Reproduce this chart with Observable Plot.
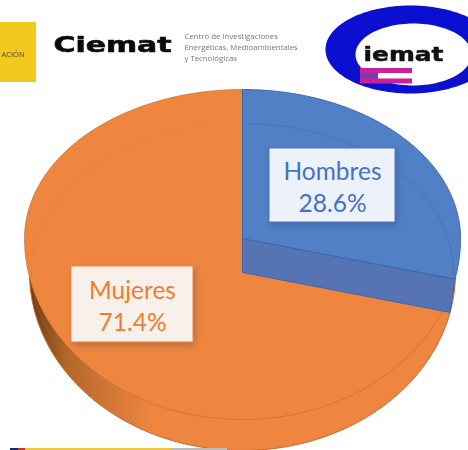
<!DOCTYPE html>
<html lang="es">
<head>
<meta charset="utf-8">
<script src="https://cdn.jsdelivr.net/npm/d3@7"></script>
<script src="https://cdn.jsdelivr.net/npm/@observablehq/plot@0.6"></script>
<style>html,body{margin:0;padding:0;background:#fff}svg{display:block}</style>
</head>
<body>
<div id="chart"></div>
<script>
// Chart data
const categories = ["Hombres", "Mujeres"];
const shares = [28.6, 71.4];
const logoLines = ["Centro de Investigaciones", "Energéticas, Medioambientales", "y Tecnológicas"];

// Pie geometry on the page
const blue = "#5180C6", orange = "#EE8640", font = "Lato, 'Open Sans', sans-serif";
const topFace = {cx: 242, cy: 238, rx: 218, up: 149, low: 181};
const baseFace = {cx: 242, cy: 272, rx: 213, up: 149, low: 178};
const faint = {cx: 242, cy: 272, rx: 211, up: 149, low: 147};

const pt = (f, t) => {
  const dy = -Math.cos(t);
  return {x: f.cx + f.rx * Math.sin(t), y: f.cy + dy * (dy < 0 ? f.up : f.low)};
};
const arc = (f, a, b) => d3.range(0, 121).map(i => pt(f, a + (b - a) * i / 120));
const apex = f => ({x: f.cx, y: f.cy});
const angles = d3.pie().sort(null).value(d => d)(shares);
const [men, women] = angles;

const sector = (f, s) => [apex(f), ...arc(f, s.startAngle, s.endAngle), apex(f)];
const ring = (cx, cy, rx, ry) => d3.range(0, 121).map(i => ({
  x: cx + rx * Math.cos(i / 120 * 2 * Math.PI), y: cy + ry * Math.sin(i / 120 * 2 * Math.PI)
}));
const P = {x: "x", y: "y"};
const poly = (pts, o) => Plot.line(pts, {...P, ...o});

const band = [
  apex(topFace),
  pt(topFace, men.endAngle),
  pt(baseFace, men.endAngle),
  apex(baseFace),
  apex(topFace)
];
const wall = arc(baseFace, Math.PI * 0.5, Math.PI * 1.5);

const labels = categories.map((c, i) => ({
  text: `${c}\n${shares[i].toFixed(1)}%`,
  x: [332, 132][i], y: [185, 304][i],
  x1: [269, 71][i], x2: [395, 193][i], y1: [148, 266][i], y2: [222, 342][i],
  color: ["#4472C4", "#ED7D31"][i],
  bg: ["#EDF1F9", "#F8F0EB"][i],
  border: ["#4A78C8", "#F0843C"][i]
}));

const defs = () => {
  const d = d3.create("svg:defs");
  const g = d.append("linearGradient").attr("id", "wallGrad")
    .attr("gradientUnits", "userSpaceOnUse")
    .attr("x1", 30).attr("x2", 150).attr("y1", 0).attr("y2", 0);
  g.append("stop").attr("offset", 0).attr("stop-color", "#6E3D14");
  g.append("stop").attr("offset", 0.3).attr("stop-color", "#B4662A");
  g.append("stop").attr("offset", 1).attr("stop-color", orange);
  return d.node();
};

const strip = [
  {a: 10, b: 18, c: "#1B2A6B"},
  {a: 18, b: 25, c: "#C0392B"},
  {a: 25, b: 171, c: "#F0C63A"},
  {a: 171, b: 227, c: "#BDBDBD"}
];

const soft = "blur(0.6px)";
const chart = Plot.plot({
  width: 468, height: 450,
  margin: 0,
  x: {axis: null, domain: [0, 468], range: [0, 468]},
  y: {axis: null, domain: [0, 450], range: [0, 450]},
  style: {background: "#fff", fontFamily: font},
  marks: [
    defs,
    // Logos
    Plot.rect([{}], {x1: () => 0, x2: () => 36, y1: () => 22, y2: () => 82, fill: "#F4C91F", imageFilter: soft}),
    Plot.text(["ACIÓN"], {x: () => 1, y: () => 54, text: d => d, textAnchor: "start", fontSize: 7.5, fill: "#4a4320", fontFamily: "'Open Sans'", imageFilter: soft}),
    Plot.text(["Ciemat"], {x: () => 53, y: () => 45, text: d => d, textAnchor: "start", fontSize: 21, fontWeight: 700, fill: "#0b0b0b", stroke: "#0b0b0b", strokeWidth: 0.6, fontFamily: "'DejaVu Sans'", className: "wide-a", imageFilter: soft}),
    Plot.text(logoLines, {x: () => 184, y: (d, i) => 36 + i * 11, text: d => d, textAnchor: "start", fontSize: 7.8, fill: "#777", fontFamily: "'Open Sans'", imageFilter: soft}),
    poly(ring(410, 49, 85, 44), {fill: "#0A0FD0", stroke: "none", imageFilter: soft}),
    poly(ring(413, 54, 58, 31), {fill: "#fff", stroke: "none", imageFilter: soft}),
    Plot.text(["iemat"], {x: () => 363, y: () => 54, text: d => d, textAnchor: "start", fontSize: 20, fontWeight: 700, fill: "#111", stroke: "#111", strokeWidth: 0.5, fontFamily: "'DejaVu Sans'", className: "wide-b", imageFilter: soft}),
    Plot.rect([{}], {x1: () => 360, x2: () => 378, y1: () => 73, y2: () => 79, fill: "#7A3DB0", imageFilter: soft}),
    Plot.rect([68, 78.5], {x1: () => 360, x2: () => 412, y1: d => d, y2: d => d + 5, fill: "#C9219A", imageFilter: soft}),

    // Side wall and faces
    poly(wall, {fill: "url(#wallGrad)", stroke: "#C26A2C", strokeWidth: 1}),
    poly(sector(topFace, women), {fill: orange, stroke: "#C96F30", strokeWidth: 1, strokeOpacity: 0.7}),
    poly(arc(faint, Math.PI * 1.05, Math.PI * 1.95), {stroke: "#C97A3F", strokeOpacity: 0.3, strokeWidth: 1}),
    poly(band, {fill: "#5673B4", stroke: "#3F66AC", strokeWidth: 1}),
    poly(sector(topFace, men), {fill: blue, stroke: "#3C68AE", strokeWidth: 1}),
    poly(arc(faint, 0, men.endAngle - 0.2), {stroke: "#3F6BB3", strokeOpacity: 0.6, strokeWidth: 1}),

    // Label boxes
    Plot.rect(labels, {
      x1: "x1", x2: "x2", y1: "y1", y2: "y2",
      fill: "bg", stroke: "border", strokeWidth: 1,
      imageFilter: "drop-shadow(2px 3px 3px rgba(40,40,60,0.25))"
    }),
    Plot.text(labels, {
      x: "x", y: "y", text: "text", fill: "color",
      fontSize: 24.5, lineHeight: 1.3, fontFamily: font
    }),

    // Edge of the cropped picture below
    Plot.rect(strip, {x1: "a", x2: "b", y1: () => 448, y2: () => 450, fill: "c"})
  ],
  color: {type: "identity"}
});

d3.select(chart).selectAll(".wide-a text").attr("textLength", 118).attr("lengthAdjust", "spacingAndGlyphs");
d3.select(chart).selectAll(".wide-b text").attr("textLength", 80).attr("lengthAdjust", "spacingAndGlyphs");

document.getElementById("chart").append(chart);
</script>
</body>
</html>
